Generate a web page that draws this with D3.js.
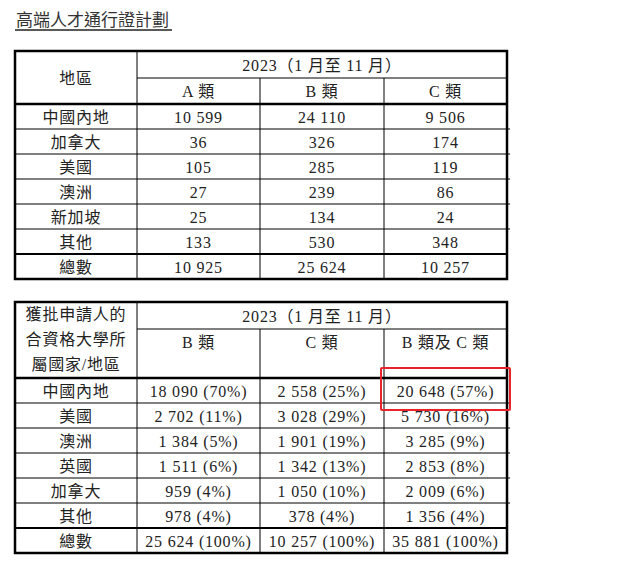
<!DOCTYPE html>
<html><head><meta charset="utf-8">
<script src="https://cdn.jsdelivr.net/npm/d3@7"></script>
<style>body{margin:0;background:#fff}</style></head>
<body><svg id="c" width="635" height="568"></svg>
<script>
const title = "高端人才通行證計劃";
const period = "2023（1 月至 11 月）";
const regions1 = ["中國內地","加拿大","美國","澳洲","新加坡","其他","總數"];
const cols1 = ["A 類","B 類","C 類"];
const valsA = ["10 599","36","105","27","25","133","10 925"];
const valsB = ["24 110","326","285","239","134","530","25 624"];
const valsC = ["9 506","174","119","86","24","348","10 257"];
const regions2 = ["中國內地","美國","澳洲","英國","加拿大","其他","總數"];
const cols2 = ["B 類","C 類","B 類及 C 類"];
const vals2B = ["18 090 (70%)","2 702 (11%)","1 384 (5%)","1 511 (6%)","959 (4%)","978 (4%)","25 624 (100%)"];
const vals2C = ["2 558 (25%)","3 028 (29%)","1 901 (19%)","1 342 (13%)","1 050 (10%)","378 (4%)","10 257 (100%)"];
const vals2BC = ["20 648 (57%)","5 730 (16%)","3 285 (9%)","2 853 (8%)","2 009 (6%)","1 356 (4%)","35 881 (100%)"];
const header2 = ["獲批申請人的","合資格大學所","屬國家/地區"];

const svg = d3.select("#c");
const FONT = "'Liberation Serif','Noto Sans CJK TC',serif";
svg.append("text").attr("x",16).attr("y",26).attr("font-family",FONT).attr("font-size",17).attr("fill","#333").text(title);
svg.append("line").attr("x1",15).attr("x2",172).attr("y1",30).attr("y2",30).attr("stroke","#222").attr("stroke-width",1.3);

const xEdges = [15,137,260,384,507];
function table(top, h1, hb, rows, colsHead, data, headLeft, rowTop){
  const g = svg.append("g");
  const y = d3.scaleBand().domain(d3.range(rows.length)).range([hb, hb + 25*rows.length]);
  const bottom = hb + 25*rows.length;
  const L = (x1,y1,x2,y2,w)=>g.append("line").attr("x1",x1).attr("y1",y1).attr("x2",x2).attr("y2",y2).attr("stroke","#000").attr("stroke-width",w);
  L(xEdges[1],h1,507,h1,1);
  L(15,hb,507,hb,2.5);
  rows.forEach((r,i)=>{ if(i>0) L(15,y(i),i==rows.length-1?507:510,y(i), i==rows.length-1?2:1); });
  xEdges.slice(1,4).forEach((x,i)=>L(x, i==0?top:h1, x, bottom, 1));
  g.append("rect").attr("x",15).attr("y",top).attr("width",492).attr("height",bottom-top).attr("fill","none").attr("stroke","#000").attr("stroke-width",2.5);
  const T=(x,yy,s,size)=>g.append("text").attr("x",x).attr("y",yy).attr("text-anchor","middle").attr("font-family",FONT).attr("font-size",size||16).attr("letter-spacing",0.8).attr("fill","#222").text(s);
  T((137+507)/2, top+(h1-top)/2+6, period, 16);
  colsHead.forEach((c,i)=>T((xEdges[i+1]+xEdges[i+2])/2, rowTop, c, 16));
  headLeft.forEach((s,i)=>T(76, headLeft.length==1 ? (top+hb)/2+6 : top+18+i*25, s, 16));
  rows.forEach((r,i)=>{
    const cy = y(i)+y.bandwidth()/2+6;
    T(76, cy, r, 16);
    data.forEach((col,j)=>T((xEdges[j+1]+xEdges[j+2])/2, cy, col[i], 16));
  });
  return y;
}
table(51,78,104,regions1,cols1,[valsA,valsB,valsC],["地區"],97);
table(302,329,378,regions2,cols2,[vals2B,vals2C,vals2BC],header2,348);
svg.append("rect").attr("x",381).attr("y",368).attr("width",129).attr("height",42).attr("fill","none").attr("stroke","#e8242a").attr("stroke-width",2).attr("rx",1);
</script></body></html>
